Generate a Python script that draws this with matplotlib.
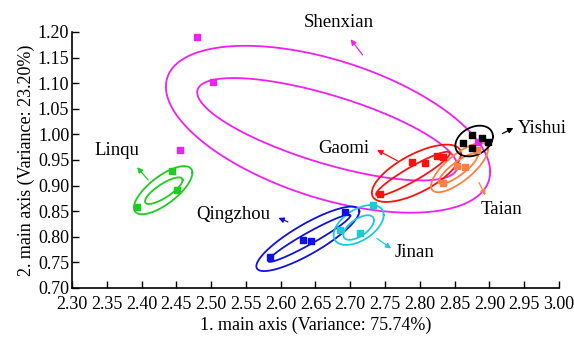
import numpy as np
import matplotlib
matplotlib.use("Agg")
import matplotlib.pyplot as plt

plt.rcParams['font.family'] = ['Liberation Serif', 'DejaVu Serif']

# sample scores on the two main axes
groups = ["Shenxian", "Gaomi", "Taian", "Yishui", "Linqu", "Qingzhou", "Jinan"]
colors = ["#f020f0", "#ff1010", "#ff8040", "#000000", "#20cc20", "#1010e0", "#20c8d8"]

shenxian_x = [2.480, 2.503, 2.455, 2.883]
shenxian_y = [1.190, 1.102, 0.970, 0.985]
gaomi_x = [2.742, 2.789, 2.807, 2.825, 2.833]
gaomi_y = [0.884, 0.946, 0.944, 0.958, 0.956]
taian_x = [2.833, 2.854, 2.865, 2.882]
taian_y = [0.905, 0.938, 0.936, 0.970]
yishui_x = [2.862, 2.875, 2.890, 2.898, 2.875]
yishui_y = [0.983, 0.999, 0.993, 0.985, 0.973]
linqu_x = [2.394, 2.444, 2.451]
linqu_y = [0.858, 0.929, 0.891]
qingzhou_x = [2.585, 2.632, 2.644, 2.692]
qingzhou_y = [0.761, 0.794, 0.792, 0.848]
jinan_x = [2.685, 2.714, 2.733]
jinan_y = [0.813, 0.807, 0.862]

# ellipses: centre x, half x-range, centre y, half y-range, correlation
outer_cx = [2.668, 2.795, 2.857, 2.878, 2.431, 2.639, 2.712]
outer_sx = [0.233, 0.064, 0.041, 0.027, 0.042, 0.074, 0.036]
outer_cy = [1.010, 0.924, 0.935, 0.987, 0.891, 0.796, 0.823]
outer_sy = [0.163, 0.056, 0.048, 0.030, 0.047, 0.063, 0.039]
outer_r = [-0.51, 0.68, 0.75, 0.30, 0.72, 0.85, 0.50]

inner_cx = [2.667, 2.790, 2.855, None, 2.432, 2.641, 2.712]
inner_sx = [0.187, 0.053, 0.028, None, 0.027, 0.059, 0.022]
inner_cy = [1.010, 0.923, 0.933, None, 0.890, 0.797, 0.818]
inner_sy = [0.100, 0.043, 0.030, None, 0.026, 0.046, 0.024]
inner_r = [-0.72, 0.93, 0.85, None, 0.80, 0.96, 0.60]

xs = [shenxian_x, gaomi_x, taian_x, yishui_x, linqu_x, qingzhou_x, jinan_x]
ys = [shenxian_y, gaomi_y, taian_y, yishui_y, linqu_y, qingzhou_y, jinan_y]

# label position, arrow tail, arrow head
label_xy = [(2.684, 1.219), (2.690, 0.972), (2.918, 0.854), (2.976, 1.012),
            (2.364, 0.969), (2.532, 0.843), (2.793, 0.770)]
arrow_from = [(2.720, 1.151), (2.771, 0.946), (2.883, 0.911), (2.915, 0.999),
              (2.412, 0.907), (2.614, 0.827), (2.735, 0.800)]
arrow_to = [(2.698, 1.190), (2.735, 0.972), (2.896, 0.876), (2.938, 1.015),
            (2.391, 0.940), (2.593, 0.839), (2.762, 0.774)]


def ellipse(cx, sx, cy, sy, r):
    t = np.linspace(0, 2 * np.pi, 200)
    ex = cx + sx * np.cos(t)
    ey = cy + sy * (r * np.cos(t) + np.sqrt(1 - r ** 2) * np.sin(t))
    return ex, ey


fig = plt.figure(figsize=(5.74, 3.40), dpi=100)
ax = fig.add_axes([0.1254, 0.153, 0.8485, 0.753])

for i, name in enumerate(groups):
    c = colors[i]
    ex, ey = ellipse(outer_cx[i], outer_sx[i], outer_cy[i], outer_sy[i], outer_r[i])
    ax.plot(ex, ey, color=c, lw=1.3)
    if inner_cx[i] is not None:
        ex, ey = ellipse(inner_cx[i], inner_sx[i], inner_cy[i], inner_sy[i], inner_r[i])
        ax.plot(ex, ey, color=c, lw=1.3)
    ax.scatter(xs[i], ys[i], marker='s', s=22, color=c, zorder=3)
    ax.annotate("", xy=arrow_to[i], xytext=arrow_from[i],
                arrowprops=dict(arrowstyle='-|>', color=c, lw=0.9, mutation_scale=8))
    ax.text(label_xy[i][0], label_xy[i][1], name, ha='center', va='center',
            fontsize=13.5, clip_on=False)

ax.set_xlim(2.30, 3.00)
ax.set_ylim(0.70, 1.20)
ax.set_xticks(np.arange(2.30, 3.001, 0.05))
ax.set_yticks(np.arange(0.70, 1.201, 0.05))
ax.xaxis.set_major_formatter(matplotlib.ticker.FormatStrFormatter('%.2f'))
ax.yaxis.set_major_formatter(matplotlib.ticker.FormatStrFormatter('%.2f'))
ax.tick_params(direction='in', length=5, width=1, labelsize=13)
ax.tick_params(axis='x', pad=5.5)
ax.tick_params(axis='y', pad=2)
ax.spines['top'].set_visible(False)
ax.spines['right'].set_visible(False)
ax.spines['left'].set_linewidth(1.2)
ax.spines['bottom'].set_linewidth(1.2)
ax.set_xlabel('1. main axis (Variance: 75.74%)', fontsize=13, labelpad=3)
ax.set_ylabel('2. main axis (Variance: 23.20%)', fontsize=13, labelpad=2)

fig.savefig('out.png', dpi=100)
